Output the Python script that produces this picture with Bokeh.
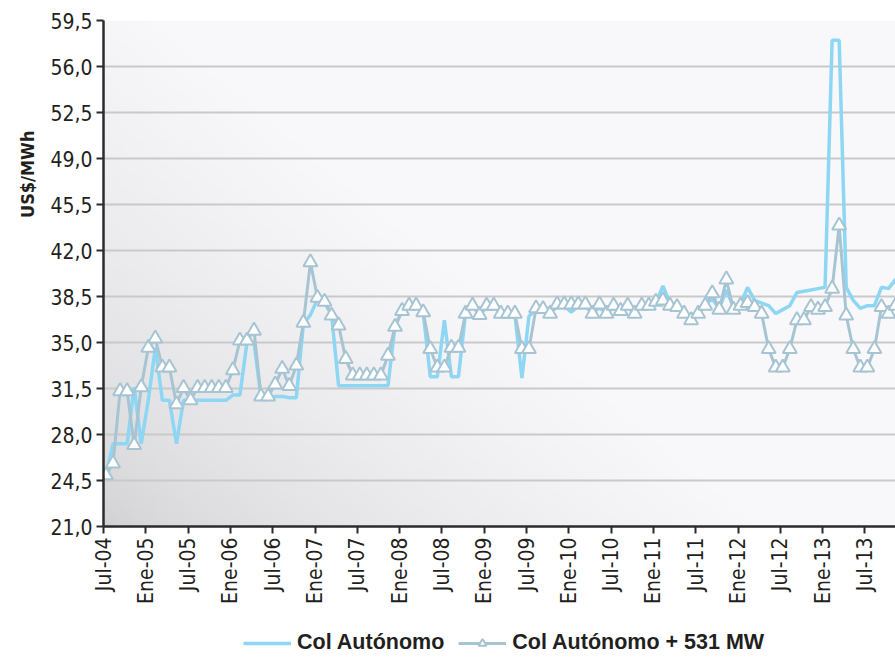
import numpy as np
from bokeh.plotting import figure
from bokeh.layouts import column
from bokeh.models import FixedTicker, Legend, LegendItem, Title, ColumnDataSource
from bokeh.embed import file_html
from bokeh.resources import INLINE

# ---------------- data ----------------
x_tick_labels = ["Jul-04", "Ene-05", "Jul-05", "Ene-06", "Jul-06", "Ene-07", "Jul-07",
                 "Ene-08", "Jul-08", "Ene-09", "Jul-09", "Ene-10", "Jul-10", "Ene-11",
                 "Jul-11", "Ene-12", "Jul-12", "Ene-13", "Jul-13"]
x_tick_months = [0, 6, 12, 18, 24, 30, 36, 42, 48, 54, 60, 66, 72, 78, 84, 90, 96, 102, 108]

y_ticks = [21.0, 24.5, 28.0, 31.5, 35.0, 38.5, 42.0, 45.5, 49.0, 52.5, 56.0, 59.5]
y_tick_labels = ["21,0", "24,5", "28,0", "31,5", "35,0", "38,5", "42,0", "45,5",
                 "49,0", "52,5", "56,0", "59,5"]

col_autonomo = [
    24.9, 27.3, 27.3, 27.3, 31.6, 27.3, 30.6, 34.6, 30.6, 30.6,
    27.3, 30.6, 30.6, 30.6, 30.6, 30.6, 30.6, 30.6, 31.0, 31.0,
    35.0, 35.0, 30.8, 30.8, 30.9, 30.9, 30.8, 30.8, 36.4, 37.1,
    38.3, 38.1, 37.1, 31.7, 31.7, 31.7, 31.7, 31.7, 31.7, 31.7,
    31.7, 36.3, 37.4, 37.8, 37.8, 37.3, 32.4, 32.4, 36.7, 32.4,
    32.4, 37.2, 37.8, 37.1, 37.7, 37.8, 37.1, 37.3, 37.1, 32.3,
    37.0, 37.5, 37.6, 37.3, 37.7, 37.8, 37.3, 37.8, 37.7, 37.3,
    37.6, 37.3, 37.6, 37.5, 37.6, 37.3, 37.9, 37.8, 38.0, 39.3,
    38.0, 37.7, 37.3, 37.0, 37.4, 37.9, 38.3, 37.6, 39.0, 37.7,
    37.9, 39.2, 38.2, 38.0, 37.8, 37.2, 37.5, 37.8, 38.8, 38.9,
    39.0, 39.1, 39.2, 58.0, 58.0, 39.2, 38.2, 37.6, 37.8, 37.8,
    39.2, 39.1, 39.8,
]

col_autonomo_531 = [
    24.9, 25.8, 31.3, 31.3, 27.2, 31.6, 34.6, 35.3, 33.1, 33.1,
    30.3, 31.55, 30.6, 31.55, 31.55, 31.55, 31.55, 31.55, 32.9, 35.15,
    35.15, 35.9, 30.9, 30.9, 31.8, 33.0, 31.7, 33.25, 36.5, 41.1,
    38.4, 38.1, 37.05, 36.3, 33.75, 32.5, 32.5, 32.5, 32.5, 32.5,
    34.0, 36.2, 37.4, 37.8, 37.8, 37.3, 34.5, 33.1, 33.1, 34.6,
    34.6, 37.2, 37.8, 37.1, 37.8, 37.8, 37.2, 37.2, 37.2, 34.5,
    34.5, 37.6, 37.55, 37.2, 37.9, 37.9, 37.9, 37.9, 37.9, 37.2,
    37.9, 37.2, 37.8, 37.4, 37.8, 37.2, 37.8, 37.8, 38.1, 38.2,
    37.8, 37.7, 37.2, 36.7, 37.2, 37.8, 38.75, 37.5, 39.8, 37.5,
    37.8, 38.0, 37.7, 37.2, 34.5, 33.1, 33.1, 34.5, 36.7, 36.7,
    37.7, 37.5, 37.7, 39.1, 43.9, 37.05, 34.5, 33.1, 33.1, 34.5,
    37.7, 37.2, 37.8,
]

# ---------------- styles ----------------
BLUE = "#8dd6f4"
GREY = "#a7c4d3"
TEXT = "#231f20"
tick_font = "DejaVu Sans Condensed"

X_END = 112.34
months = np.arange(len(col_autonomo)) + 0.35
src = ColumnDataSource(dict(x=months, a=col_autonomo, b=col_autonomo_531))

# ---------------- main chart ----------------
fig = figure(width=895, height=626, x_range=(0, X_END), y_range=(21.0, 59.5),
             output_backend="svg", toolbar_location=None,
             frame_width=792, frame_height=506,
             min_border_left=103, min_border_right=0, min_border_top=20,
             min_border_bottom=100)
fig.background_fill_color = "#ffffff"
fig.border_fill_color = "#ffffff"
fig.outline_line_color = None

# gradient background of the plot area (decoration)
H, W = 100, 160
yy, xx = np.mgrid[0:H, 0:W]
px = xx / (W - 1) * 792.0
py = yy / (H - 1) * 506.0
t = np.clip((px + 1.2 * py) / 650.0, 0, 1)
c = 208 + 40 * t ** 0.6
img = np.zeros((H, W), dtype=np.uint32)
view = img.view(dtype=np.uint8).reshape((H, W, 4))
view[:, :, 0] = c.astype(np.uint8)
view[:, :, 1] = c.astype(np.uint8)
view[:, :, 2] = np.clip(c + 2, 0, 255).astype(np.uint8)
view[:, :, 3] = 255
fig.image_rgba(image=[img], x=0, y=21.0, dw=X_END, dh=38.5, level="image")

fig.xgrid.grid_line_color = None
fig.ygrid.grid_line_color = "#c9c9c9"
fig.ygrid.grid_line_width = 2
fig.ygrid.ticker = FixedTicker(ticks=y_ticks)

fig.yaxis.ticker = FixedTicker(ticks=y_ticks)
fig.yaxis.major_label_overrides = {v: s for v, s in zip(y_ticks, y_tick_labels)}
fig.xaxis.ticker = FixedTicker(ticks=x_tick_months)
fig.xaxis.major_label_overrides = {m: s for m, s in zip(x_tick_months, x_tick_labels)}
fig.xaxis.major_label_orientation = np.pi / 2
for ax in (fig.xaxis, fig.yaxis):
    ax.axis_line_color = "#2b2b2b"
    ax.axis_line_width = 2.5
    ax.major_tick_line_color = "#2b2b2b"
    ax.major_tick_line_width = 2
    ax.major_tick_out = 7
    ax.major_tick_in = 0
    ax.minor_tick_line_color = None
    ax.major_label_text_font = tick_font
    ax.major_label_text_font_size = "21px"
    ax.major_label_text_color = TEXT
    ax.major_label_standoff = 4

fig.line("x", "a", source=src, line_color=BLUE, line_width=3.5)
fig.line("x", "b", source=src, line_color=GREY, line_width=3)
fig.scatter("x", "b", source=src, marker="triangle", size=14,
            fill_color="white", line_color=GREY, line_width=2)

ytitle = Title(text="US$/MWh", align="right", offset=110, standoff=20,
               text_font=tick_font, text_font_style="bold",
               text_font_size="18px", text_color=TEXT)
fig.add_layout(ytitle, "left")

# ---------------- legend strip ----------------
leg = figure(width=895, height=31, x_range=(-100, -99), y_range=(0, 1),
             output_backend="svg", toolbar_location=None,
             x_axis_location=None, y_axis_location=None,
             min_border=0)
leg.outline_line_color = None
leg.grid.grid_line_color = None
l_a = leg.line("x", "a", source=src, line_color=BLUE, line_width=3.5)
l_b = leg.line("x", "b", source=src, line_color=GREY, line_width=3)
l_bm = leg.scatter("x", "b", source=src, marker="triangle", size=14,
                   fill_color="white", line_color=GREY, line_width=2)
legend = Legend(items=[LegendItem(label="Col Autónomo", renderers=[l_a]),
                       LegendItem(label="Col Autónomo + 531 MW", renderers=[l_b, l_bm])],
                orientation="horizontal", location=(140, 2))
legend.label_text_font = "Liberation Sans"
legend.label_text_font_style = "bold"
legend.label_text_font_size = "21.5px"
legend.label_text_color = TEXT
legend.glyph_width = 48
legend.glyph_height = 20
legend.spacing = 14
legend.label_standoff = 6
legend.padding = 0
legend.margin = 0
legend.border_line_color = None
legend.background_fill_alpha = 0
leg.add_layout(legend, "center")

p = column(fig, leg, spacing=0)

open("out.html", "w").write(file_html(p, INLINE))
